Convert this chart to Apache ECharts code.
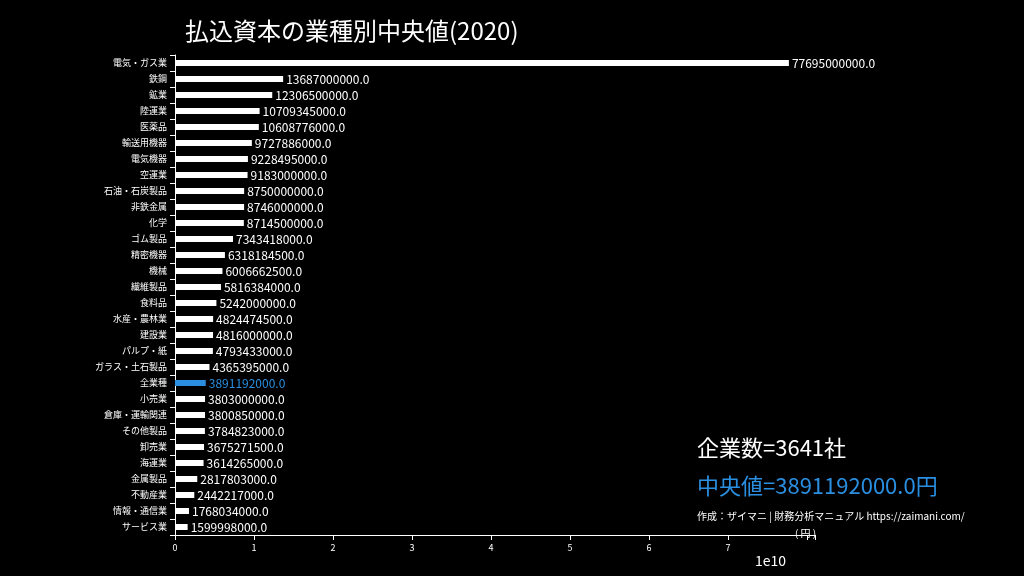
<!DOCTYPE html>
<html><head><meta charset="utf-8">
<script src="https://cdn.jsdelivr.net/npm/echarts@6/dist/echarts.min.js"></script>
<style>html,body{margin:0;background:#000}#c{width:1024px;height:576px}</style></head>
<body><div id="c"></div>
<script>
const categories=["電気・ガス業","鉄鋼","鉱業","陸運業","医薬品","輸送用機器","電気機器","空運業","石油・石炭製品","非鉄金属","化学","ゴム製品","精密機器","機械","繊維製品","食料品","水産・農林業","建設業","パルプ・紙","ガラス・土石製品","全業種","小売業","倉庫・運輸関連","その他製品","卸売業","海運業","金属製品","不動産業","情報・通信業","サービス業"];
const values=[77695000000,13687000000,12306500000,10709345000,10608776000,9727886000,9228495000,9183000000,8750000000,8746000000,8714500000,7343418000,6318184500,6006662500,5816384000,5242000000,4824474500,4816000000,4793433000,4365395000,3891192000,3803000000,3800850000,3784823000,3675271500,3614265000,2817803000,2442217000,1768034000,1599998000];
const highlight="全業種";
const blue="#2a8fe0";
const F="Noto Sans CJK JP";
const chart=echarts.init(document.getElementById('c'));
chart.setOption({
 backgroundColor:'#000',animation:false,
 textStyle:{fontFamily:F},
 title:{text:'払込資本の業種別中央値(2020)',left:180,top:14,textStyle:{color:'#fff',fontSize:24,fontWeight:'normal',fontFamily:F}},
 grid:{left:175,right:209,top:55,bottom:41},
 xAxis:{type:'value',min:0,max:8.1e10,interval:1e10,
  axisLine:{show:true,lineStyle:{color:'#fff'}},axisTick:{show:true,lineStyle:{color:'#fff'}},
  splitLine:{show:false},
  axisLabel:{color:'#fff',fontSize:9,formatter:v=>v>7e10?'':String(Math.round(v/1e10))}},
 yAxis:{type:'category',inverse:true,data:categories,
  axisLine:{show:true,lineStyle:{color:'#fff'}},axisTick:{show:true,lineStyle:{color:'#fff'}},
  axisLabel:{color:'#fff',fontSize:9}},
 series:[{type:'bar',barWidth:6,
  data:values.map((v,i)=>({value:v,itemStyle:{color:categories[i]===highlight?blue:'#fff'},
   label:{color:categories[i]===highlight?blue:'#fff'}})),
  label:{show:true,position:'right',fontSize:12,distance:3,formatter:p=>p.value.toFixed(1)}}],
 graphic:[
  {type:'text',left:697,top:437,style:{text:'企業数=3641社',fill:'#fff',font:'22px "'+F+'"'}},
  {type:'text',left:697,top:475,style:{text:'中央値=3891192000.0円',fill:blue,font:'22px "'+F+'"'}},
  {type:'text',left:697,top:511,style:{text:'作成：ザイマニ | 財務分析マニュアル https://zaimani.com/',fill:'#fff',font:'10px "'+F+'"'}},
  {type:'text',left:795,top:528,style:{text:'( 円 )',fill:'#fff',font:'10px "'+F+'"'}},
  {type:'text',left:755,top:554,style:{text:'1e10',fill:'#fff',font:'14px "'+F+'"'}}
 ]
});
</script></body></html>
